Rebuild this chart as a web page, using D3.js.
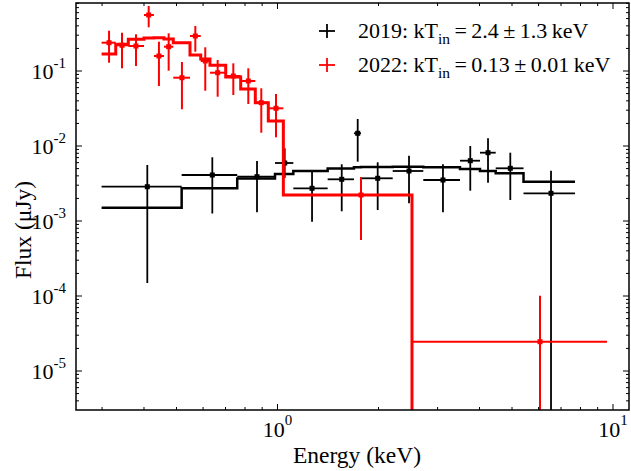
<!DOCTYPE html>
<html><head><meta charset="utf-8">
<script src="https://cdn.jsdelivr.net/npm/d3@7"></script>
<style>body{margin:0;background:#fff;} svg{display:block;font-family:"Liberation Serif","Times New Roman",serif;}</style>
</head><body><div id="chart"></div>
<script>
// ---- 2019 data (black) ----
const binLo2019 = [0.299,0.518,0.7585,0.983,1.1146,1.411,1.690,1.774,2.205,2.720,3.499,4.014,4.471,5.411];
const binHi2019 = [0.518,0.7585,0.983,1.1146,1.411,1.690,1.774,2.205,2.720,3.499,4.014,4.471,5.411,7.703];
const energy2019 = [0.4092,0.6393,0.8688,1.0507,1.2675,1.554,1.734,1.989,2.466,3.113,3.755,4.241,4.942,6.535];
const flux2019 = [0.002866,0.004105,0.003898,0.005934,0.002729,0.003597,0.01477,0.003710,0.004642,0.003521,0.006368,0.008143,0.005043,0.002340];
const fluxHi2019 = [0.00558,0.007068,0.00631,0.009318,0.004544,0.005702,0.02291,0.006063,0.007424,0.005702,0.01,0.01267,0.008143,0.004684];
const fluxLo2019 = [0.0001491,0.001259,0.001306,0.003744,0.000979,0.001347,0.006177,0.001402,0.001722,0.001306,0.002535,0.003241,0.001905,0];
const model2019 = [0.001504,0.002729,0.003687,0.004233,0.004642,0.005012,0.0052,0.005248,0.005297,0.0052,0.004935,0.004642,0.004325,0.003342];

// ---- 2022 data (red) ----
const binLo2022 = [0.299,0.3295,0.3592,0.400,0.4283,0.4588,0.4891,0.5485,0.5904,0.629,0.7009,0.7768,0.8587,0.9388,1.041,2.517];
const binHi2022 = [0.3295,0.3592,0.400,0.4283,0.4588,0.4891,0.5485,0.5904,0.629,0.7009,0.7768,0.8587,0.9388,1.041,2.517,9.596];
const energy2022 = [0.3147,0.3440,0.3786,0.4131,0.4432,0.4738,0.519,0.5689,0.6091,0.6632,0.7384,0.8184,0.8947,0.9897,1.774,6.059];
const flux2022 = [0.2384,0.2202,0.2154,0.558,0.1585,0.2109,0.0814,0.2928,0.136,0.0949,0.0858,0.0736,0.0378,0.0318,0.00222,0.00002459];
const fluxHi2022 = [0.3446,0.324,0.3085,0.7356,0.2458,0.318,0.1318,0.398,0.207,0.1402,0.1266,0.1086,0.0588,0.0494,0.00386,0.0001009];
const fluxLo2022 = [0.129,0.1086,0.1166,0.3825,0.0631,0.1009,0.0309,0.1808,0.0546,0.0454,0.0479,0.0363,0.01504,0.01306,0.000558,0];
const model2022 = [0.1685,0.227,0.2647,0.2754,0.278,0.2671,0.2384,0.1634,0.1445,0.1191,0.0832,0.0575,0.0378,0.02154,0.00222,1e-12];

const xTickLabels = [["10","0"],["10","1"]];
const xTickValues = [1,10];
const yTickLabels = [["10","-1"],["10","-2"],["10","-3"],["10","-4"],["10","-5"]];
const yTickValues = [1e-1,1e-2,1e-3,1e-4,1e-5];
const legendLabels = [
  {year:"2019: kT", sub:"in", rest:"\u2009=\u20092.4\u2009\u00b1\u20091.3\u2009keV"},
  {year:"2022: kT", sub:"in", rest:"\u2009=\u20090.13\u2009\u00b1\u20090.01\u2009keV"}
];

const W=631,H=471;
const L=76,R=629,T=3,B=410;
const x = d3.scaleLog().domain([Math.pow(10,-0.6006),Math.pow(10,1.0477)]).range([L,R]);
const y = d3.scaleLog().domain([Math.pow(10,-5.52),Math.pow(10,-0.0933)]).range([B,T]);

const svg = d3.select("#chart").append("svg").attr("width",W).attr("height",H);
svg.append("rect").attr("width",W).attr("height",H).attr("fill","#fff");
svg.append("clipPath").attr("id","clip").append("rect").attr("x",L).attr("y",T).attr("width",R-L).attr("height",B-T);
const g = svg.append("g").attr("clip-path","url(#clip)");

function yy(v){ return v<=0 ? B+20 : y(v); }

function drawSeries(color, lo, hi, e, f, fh, fl, model, mw, ew){
  const pts = lo.map((d,i)=>[d, model[i]]);
  pts.push([hi[hi.length-1], model[model.length-1]]);
  const line = d3.line().x(d=>x(d[0])).y(d=>yy(d[1])).curve(d3.curveStepAfter);
  g.append("path").attr("d",line(pts)).attr("fill","none").attr("stroke",color).attr("stroke-width",mw);
  const eg = g.append("g").attr("stroke",color).attr("stroke-width",ew);
  e.forEach((d,i)=>{
    eg.append("line").attr("x1",x(lo[i])).attr("x2",x(hi[i])).attr("y1",y(f[i])).attr("y2",y(f[i]));
    eg.append("line").attr("x1",x(d)).attr("x2",x(d)).attr("y1",yy(fh[i])).attr("y2",yy(fl[i]));
    g.append("rect").attr("x",x(d)-2.5).attr("y",y(f[i])-2.5).attr("width",5).attr("height",5).attr("fill",color);
  });
}
drawSeries("#000", binLo2019, binHi2019, energy2019, flux2019, fluxHi2019, fluxLo2019, model2019, 2.5, 1.8);
drawSeries("#f00", binLo2022, binHi2022, energy2022, flux2022, fluxHi2022, fluxLo2022, model2022, 3, 2);

svg.append("rect").attr("x",L).attr("y",T).attr("width",R-L).attr("height",B-T).attr("fill","none").attr("stroke","#000").attr("stroke-width",1.5);

const tk = svg.append("g").attr("stroke","#000").attr("stroke-width",1);
function minorTicks(scale){
  const [a,b]=scale.domain(); const out=[];
  for(let p=Math.floor(Math.log10(a)); p<=Math.ceil(Math.log10(b)); p++){
    for(let k=1;k<10;k++){ const v=k*Math.pow(10,p); if(v>=a && v<=b) out.push({v, major:k===1}); }
  }
  return out;
}
minorTicks(x).forEach(t=>{
  const len=t.major?6:3, px=x(t.v);
  tk.append("line").attr("x1",px).attr("x2",px).attr("y1",B).attr("y2",B-len);
  tk.append("line").attr("x1",px).attr("x2",px).attr("y1",T).attr("y2",T+len);
});
minorTicks(y).forEach(t=>{
  const len=t.major?6:3, py=y(t.v);
  tk.append("line").attr("x1",L).attr("x2",L+len).attr("y1",py).attr("y2",py);
  tk.append("line").attr("x1",R).attr("x2",R-len).attr("y1",py).attr("y2",py);
});

xTickValues.forEach((v,i)=>{
  const t = svg.append("text").attr("x",x(v)).attr("y",437).attr("text-anchor","middle").attr("font-size",22).attr("fill","#000");
  t.append("tspan").text(xTickLabels[i][0]);
  t.append("tspan").attr("dy",-12).attr("font-size",15).text(xTickLabels[i][1]);
});
yTickValues.forEach((v,i)=>{
  const t = svg.append("text").attr("x",66).attr("y",y(v)+8).attr("text-anchor","end").attr("font-size",22).attr("fill","#000");
  t.append("tspan").text(yTickLabels[i][0]);
  t.append("tspan").attr("dy",-11).attr("font-size",15).text(yTickLabels[i][1]);
});

svg.append("text").attr("x",357).attr("y",463).attr("text-anchor","middle").attr("font-size",23.5).text("Energy (keV)");
svg.append("text").attr("transform","translate(31,230) rotate(-90)").attr("text-anchor","middle").attr("font-size",23.5).text("Flux (\u03bcJy)");

const legColors=["#000","#f00"];
legendLabels.forEach((d,i)=>{
  const cy = 31 + i*34;
  const lg = svg.append("g").attr("stroke",legColors[i]).attr("stroke-width",1.8);
  lg.append("line").attr("x1",319).attr("x2",335).attr("y1",cy).attr("y2",cy);
  lg.append("line").attr("x1",327).attr("x2",327).attr("y1",cy-7).attr("y2",cy+7);
  const t = svg.append("text").attr("x",358).attr("y",cy+7).attr("font-size",22).attr("fill","#000");
  t.append("tspan").text(d.year);
  t.append("tspan").attr("dy",6).attr("font-size",15.5).text(d.sub);
  t.append("tspan").attr("dy",-6).text(d.rest);
});
</script></body></html>
